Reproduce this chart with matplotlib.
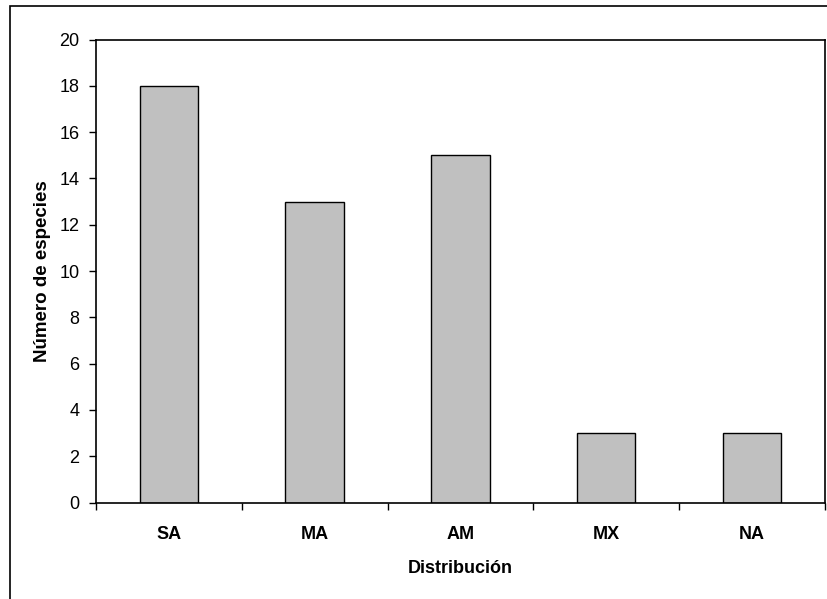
import matplotlib
matplotlib.use('AGG')
import matplotlib.pyplot as plt
import numpy as np
from matplotlib.patches import Rectangle

plt.rcParams['font.family'] = ['Liberation Sans', 'DejaVu Sans']
plt.rcParams['xtick.direction'] = 'out'
plt.rcParams['ytick.direction'] = 'out'

categories = ['SA', 'MA', 'AM', 'MX', 'NA']
especies = [18, 13, 15, 3, 3]
yticks = [0, 2, 4, 6, 8, 10, 12, 14, 16, 18, 20]

fig = plt.figure(figsize=(8.27, 5.99), dpi=100)
ax = fig.add_axes([0.116, 0.161, 0.8816, 0.773])

# outer chart border (cut off at right and bottom, as in the original)
fig.patches.append(Rectangle((10/827, -0.1), 1.2, 1 - 6/599 + 0.1,
                             transform=fig.transFigure, fill=False,
                             edgecolor='black', linewidth=1.2, zorder=0))

x = np.arange(len(categories))
ax.bar(x, especies, width=0.4, color='#c0c0c0', edgecolor='black', linewidth=1.0)

ax.set_xlim(-0.5, len(categories) - 0.5)
ax.set_ylim(0, 20)
ax.set_yticks(yticks)
ax.set_xticks(x)
ax.set_xticklabels(categories, fontweight='bold', fontsize=13)
ax.set_xticks(np.arange(len(categories) + 1) - 0.5, minor=True)
ax.tick_params(axis='x', which='major', length=0, pad=17)
ax.tick_params(axis='x', which='minor', length=5, width=1)
ax.tick_params(axis='y', length=5, width=1, labelsize=13, pad=7)

for s in ax.spines.values():
    s.set_linewidth(1.2)

ax.set_xlabel('Distribución', fontweight='bold', fontsize=13, labelpad=12)
ax.set_ylabel('Número de especies', fontweight='bold', fontsize=13.5, labelpad=6)

plt.savefig('out.png', dpi=100)
